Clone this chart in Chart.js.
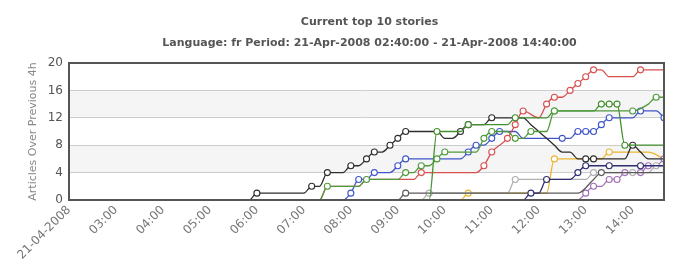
<!DOCTYPE html>
<html>
<head>
<meta charset="utf-8">
<script src="https://cdn.jsdelivr.net/npm/chart.js@4"></script>
<style>
  html, body { margin: 0; padding: 0; background: #fff; }
</style>
</head>
<body>
<canvas id="chart" width="684" height="267"></canvas>
<script>
// x axis: hour ticks and their labels
const tickTimes = ["02:00", "03:00", "04:00", "05:00", "06:00", "07:00", "08:00",
  "09:00", "10:00", "11:00", "12:00", "13:00", "14:00"];
const tickLabels = ["21-04-2008", "03:00", "04:00", "05:00", "06:00", "07:00", "08:00",
  "09:00", "10:00", "11:00", "12:00", "13:00", "14:00"];
const periodStart = "02:00";
const periodEnd = "14:40";

// each story: [time, articles over previous 4h, new article arrived]
const storyGreenA = [["02:40", 0], ["07:20", 0], ["07:30", 2, 1], ["08:10", 2], ["08:20", 3, 1],
  ["09:00", 3], ["09:10", 4, 1], ["09:20", 4], ["09:30", 5, 1], ["09:40", 5], ["09:50", 6, 1],
  ["10:00", 7, 1], ["10:40", 7], ["10:50", 9, 1], ["11:00", 10, 1], ["11:20", 10], ["11:30", 9, 1],
  ["11:40", 9], ["11:50", 10, 1], ["12:10", 10], ["12:20", 13, 1], ["13:50", 13], ["14:00", 13, 1],
  ["14:20", 14], ["14:30", 15, 1], ["14:40", 15]];
const storyGreenB = [["02:40", 0], ["09:40", 0], ["09:50", 10, 1], ["10:20", 10], ["10:30", 11, 1],
  ["11:20", 11], ["11:30", 12, 1], ["12:10", 12], ["12:20", 13, 1], ["13:10", 13], ["13:20", 14, 1],
  ["13:30", 14, 1], ["13:40", 14, 1], ["13:50", 8, 1], ["14:40", 8]];
const storyBlack = [["02:40", 0], ["05:50", 0], ["06:00", 1, 1], ["07:00", 1], ["07:10", 2, 1],
  ["07:20", 2], ["07:30", 4, 1], ["07:50", 4], ["08:00", 5, 1], ["08:10", 5], ["08:20", 6, 1],
  ["08:30", 7, 1], ["08:40", 7], ["08:50", 8, 1], ["09:00", 9, 1], ["09:10", 10, 1], ["09:50", 10],
  ["10:00", 9], ["10:10", 9], ["10:20", 10, 1], ["10:30", 11, 1], ["10:50", 11], ["11:00", 12, 1],
  ["11:40", 12], ["11:50", 11], ["12:00", 10], ["12:10", 9], ["12:20", 8], ["12:30", 7], ["12:40", 7],
  ["12:50", 6], ["13:00", 6, 1], ["13:10", 6, 1], ["13:50", 6], ["14:00", 8, 1], ["14:10", 7],
  ["14:20", 6], ["14:40", 6]];
const storyRed = [["02:40", 0], ["07:20", 0], ["07:30", 2], ["08:10", 2], ["08:20", 3], ["09:20", 3],
  ["09:30", 4, 1], ["10:40", 4], ["10:50", 5, 1], ["11:00", 7, 1], ["11:20", 9, 1], ["11:30", 11, 1],
  ["11:40", 13, 1], ["12:00", 12], ["12:10", 14, 1], ["12:20", 15, 1], ["12:30", 15], ["12:40", 16, 1],
  ["12:50", 17, 1], ["13:00", 18, 1], ["13:10", 19, 1], ["13:20", 19], ["13:30", 18], ["14:00", 18],
  ["14:10", 19, 1], ["14:40", 19]];
const storyBlue = [["02:40", 0], ["07:50", 0], ["08:00", 1, 1], ["08:10", 3, 1], ["08:20", 3],
  ["08:30", 4, 1], ["08:50", 4], ["09:00", 5, 1], ["09:10", 6, 1], ["10:20", 6], ["10:30", 7, 1],
  ["10:40", 8, 1], ["10:50", 8], ["11:00", 9, 1], ["11:10", 10, 1], ["11:30", 10], ["11:40", 9],
  ["12:20", 9], ["12:30", 9, 1], ["12:40", 9], ["12:50", 10, 1], ["13:00", 10, 1], ["13:10", 10, 1],
  ["13:20", 11, 1], ["13:30", 12, 1], ["14:00", 12], ["14:10", 13, 1], ["14:30", 13], ["14:40", 12, 1]];
const storyNavy = [["02:40", 0], ["11:40", 0], ["11:50", 1, 1], ["12:00", 1], ["12:10", 3, 1],
  ["12:40", 3], ["12:50", 4, 1], ["13:00", 5, 1], ["13:20", 5], ["13:30", 5, 1], ["14:00", 5],
  ["14:10", 5, 1], ["14:40", 5]];
const storySlate = [["02:40", 0], ["09:00", 0], ["09:10", 1, 1], ["12:50", 1], ["13:10", 3],
  ["13:20", 4, 1], ["14:40", 4]];
const storyGrey = [["02:40", 0], ["09:30", 0], ["09:40", 1, 1], ["11:20", 1], ["11:30", 3, 1],
  ["13:00", 3], ["13:10", 4, 1], ["13:50", 4], ["14:00", 4, 1], ["14:20", 4], ["14:30", 5, 1],
  ["14:40", 5]];
const storyPurple = [["02:40", 0], ["12:50", 0], ["13:00", 1, 1], ["13:10", 2, 1], ["13:20", 2],
  ["13:30", 3, 1], ["13:40", 3, 1], ["13:50", 4, 1], ["14:00", 4], ["14:10", 4, 1], ["14:20", 5, 1],
  ["14:30", 5], ["14:40", 6, 1]];
const storyYellow = [["02:40", 0], ["10:20", 0], ["10:30", 1, 1], ["12:10", 1], ["12:20", 6, 1],
  ["13:20", 6], ["13:30", 7, 1], ["14:20", 7], ["14:40", 6]];

function toHours(t) {
  const [h, m] = t.split(":").map(Number);
  return h + m / 60;
}

function points(rows) {
  return rows.map(([t, v, n]) => ({ x: toHours(t), y: v, n: n || 0 }));
}

function story(label, rows, color) {
  return {
    label: label,
    data: points(rows),
    borderColor: color,
    borderWidth: 1.3,
    cubicInterpolationMode: "monotone",
    pointBackgroundColor: "#fff",
    pointBorderColor: color,
    pointBorderWidth: 1.1,
    pointRadius: (c) => (c.raw && c.raw.n ? 3 : 0),
  };
}

const frame = {
  id: "frame",
  beforeDraw(chart) {
    const { ctx, chartArea: a, scales } = chart;
    const y = scales.y;
    ctx.save();
    ctx.fillStyle = "#f5f5f5";
    for (let i = 1; i < y.ticks.length - 1; i += 2) {
      const top = y.getPixelForValue(y.ticks[i + 1].value);
      const bot = y.getPixelForValue(y.ticks[i].value);
      ctx.fillRect(a.left, top, a.right - a.left, bot - top);
    }
    ctx.restore();
  },
  afterDatasetsDraw(chart) {
    const { ctx, chartArea: a } = chart;
    ctx.save();
    ctx.strokeStyle = "#555";
    ctx.lineWidth = 2;
    ctx.strokeRect(a.left, a.top, a.right - a.left, a.bottom - a.top);
    ctx.restore();
  },
  afterDraw(chart) {
    const { ctx, chartArea: a } = chart;
    const cx = (a.left + a.right) / 2 + 3;
    ctx.save();
    ctx.fillStyle = "#555";
    ctx.textAlign = "center";
    ctx.textBaseline = "middle";
    ctx.font = "bold 11px 'DejaVu Sans'";
    ctx.fillText("Current top 10 stories", cx, 22);
    ctx.fillText("Language: fr Period: 21-Apr-2008 02:40:00 - 21-Apr-2008 14:40:00", cx, 43);
    ctx.translate(33, (a.top + a.bottom) / 2);
    ctx.rotate(-Math.PI / 2);
    ctx.fillStyle = "#888";
    ctx.font = "11px 'DejaVu Sans'";
    ctx.fillText("Articles Over Previous 4h", 0, 0);
    ctx.restore();
  },
};

new Chart(document.getElementById("chart"), {
  type: "line",
  data: {
    datasets: [
      story("Story 1", storyGreenA, "#4f9a3c"),
      story("Story 2", storyGreenB, "#43902e"),
      story("Story 3", storyBlack, "#2e2e2e"),
      story("Story 4", storyRed, "#d65050"),
      story("Story 5", storyBlue, "#3f55c8"),
      story("Story 6", storyNavy, "#2e2e72"),
      story("Story 7", storySlate, "#5a5a5a"),
      story("Story 8", storyGrey, "#b0b0b0"),
      story("Story 9", storyPurple, "#a070b8"),
      story("Story 10", storyYellow, "#eab530"),
    ],
  },
  options: {
    responsive: false,
    devicePixelRatio: 1,
    animation: false,
    events: [],
    layout: { padding: { top: 63, right: 20, bottom: 0, left: 0 } },
    plugins: {
      legend: { display: false },
      title: { display: false },
      tooltip: { enabled: false },
    },
    scales: {
      x: {
        type: "linear",
        min: toHours(periodStart),
        max: toHours(periodEnd),
        afterBuildTicks: (s) => {
          s.ticks = tickTimes.map((t) => ({ value: toHours(t) }));
        },
        afterFit: (s) => {
          s.height = 67;
        },
        grid: { display: false },
        border: { display: false },
        ticks: {
          autoSkip: false,
          maxRotation: 45,
          minRotation: 45,
          padding: -5,
          color: "#777",
          font: { family: "'DejaVu Sans'", size: 12 },
          callback: (v, i) => tickLabels[i],
        },
      },
      y: {
        min: 0,
        max: 20,
        afterFit: (s) => {
          s.width = 69;
        },
        grid: { color: "#cccccc", drawTicks: false },
        border: { display: false },
        ticks: {
          stepSize: 4,
          padding: 6,
          color: "#555",
          font: { family: "'DejaVu Sans'", size: 12 },
        },
      },
    },
  },
  plugins: [frame],
});
</script>
</body>
</html>
